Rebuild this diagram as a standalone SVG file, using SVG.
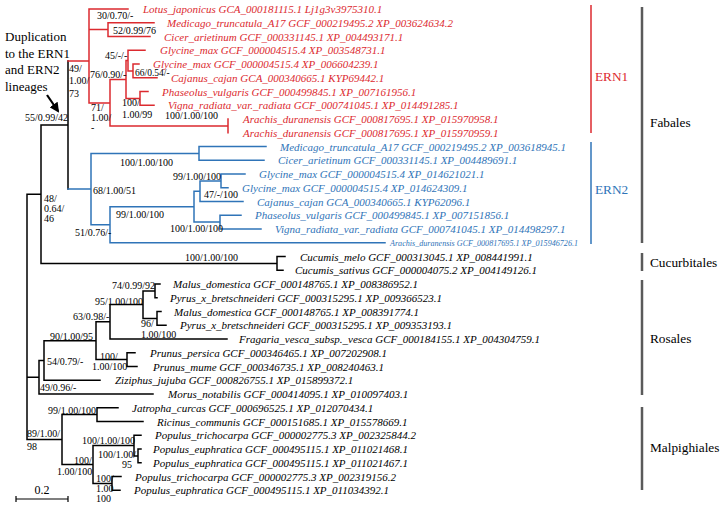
<svg xmlns="http://www.w3.org/2000/svg" width="724" height="508" viewBox="0 0 724 508" font-family="'Liberation Serif','Times New Roman',serif">
<style>
text{font-family:"Liberation Serif","Times New Roman",serif}
.sp{font-size:11px;font-style:italic}
.rt{fill:#dc2a2f}.bt{fill:#2f74b8}.kt{fill:#000}
.sl{font-size:10px;fill:#000}
.cl{font-size:13.3px}
.e{fill:none;stroke-width:1.5;stroke-linecap:square}
.ek{stroke:#000}.er{stroke:#dc2a2f}.eb{stroke:#2f74b8}
.br{stroke-width:2.5;stroke:#5a5a5a}
</style>
<defs>
<marker id="ah" viewBox="0 0 10 10" refX="8" refY="5" markerWidth="4.5" markerHeight="4.5" orient="auto"><path d="M0,0L10,5L0,10z" fill="#000"/></marker>
</defs>
<rect width="724" height="508" fill="#fff"/>
<g id="connectors">
<path class="e ek" d="M68,61V189M41,125H68M41,125V263.4M27,194.2H41M27,194.2V439.6M41,263.4H277M277,256.5V270.25M277,256.5H285M277,270.25H283
M27,377.2H39M39,360.5V394M39,394H153M39,360.5H44M44,340.7V380.25M44,380.25H100M44,340.7H96M96,321.8V359.6M96,359.6H127M127,352.75V366.5M127,352.75H135M127,366.5H137M96,321.8H110M110,304.6V339M110,339H227M110,304.6H143M143,290.9V318.4M143,290.9H155M155,284V297.75M155,284H160M155,297.75H157M143,318.4H157M157,311.5V325.25M157,311.5H161M157,325.25H166
M27,439.6H62M62,414.6V464.5M62,414.6H97M97,407.75V421.5M97,407.75H118M97,421.5H143M62,464.5H93M93,445.6V483.4M93,445.6H134M134,435.25V455.9M134,435.25H141M134,455.9H138M138,449V462.75M138,449H141M138,462.75H141M93,483.4H112M112,476.5V490.25M112,476.5H121M112,490.25H120"/>
<path class="e er" d="M68,61H89M89,9V103M89,9H128M89,29.6H108M108,22.75V36.5M108,22.75H154M108,36.5H150M89,103H110M110,79.5V125.9M110,79.5H126M126,60.6V98.4M126,60.6H128M128,50.25V70.9M128,50.25H145M128,70.9H133M133,64V77.75M133,64H139M133,77.75H157M126,98.4H140M140,91.5V105.25M140,91.5H148M140,105.25H154M110,125.9H228M228,119V132.75"/>
<path class="e eb" d="M68,189H91M91,153.4V224.7M91,153.4H199M199,146.5V160.25M199,146.5H266M199,160.25H264M91,224.7H110M110,206.7V242.75M110,242.75H385M110,206.7H194M194,191.2V222.1M194,191.2H200M200,180.9V201.5M200,201.5H243M200,180.9H221M221,174V187.75M221,174H245M221,187.75H228M194,222.1H220M220,215.25V229M220,215.25H241M220,229H261"/>
</g>
<g id="tips" class="sp">
<g id="t0" class="rt"><text x="143" y="13">Lotus_japonicus GCA_000181115.1 Lj1g3v3975310.1</text></g>
<g id="t1" class="rt"><text x="167" y="26.75">Medicago_truncatula_A17 GCF_000219495.2 XP_003624634.2</text></g>
<g id="t2" class="rt"><text x="164" y="40.5">Cicer_arietinum GCF_000331145.1 XP_004493171.1</text></g>
<g id="t3" class="rt"><text x="160" y="54.25">Glycine_max GCF_000004515.4 XP_003548731.1</text></g>
<g id="t4" class="rt"><text x="153" y="68">Glycine_max GCF_000004515.4 XP_006604239.1</text></g>
<g id="t5" class="rt"><text x="171" y="81.75">Cajanus_cajan GCA_000340665.1 KYP69442.1</text></g>
<g id="t6" class="rt"><text x="162" y="95.5">Phaseolus_vulgaris GCF_000499845.1 XP_007161956.1</text></g>
<g id="t7" class="rt"><text x="168" y="109.25">Vigna_radiata_var._radiata GCF_000741045.1 XP_014491285.1</text></g>
<g id="t8" class="rt"><text x="243" y="123">Arachis_duranensis GCF_000817695.1 XP_015970958.1</text></g>
<g id="t9" class="rt"><text x="243" y="136.75">Arachis_duranensis GCF_000817695.1 XP_015970959.1</text></g>
<g id="t10" class="bt"><text x="280" y="150.5">Medicago_truncatula_A17 GCF_000219495.2 XP_003618945.1</text></g>
<g id="t11" class="bt"><text x="278" y="164.25">Cicer_arietinum GCF_000331145.1 XP_004489691.1</text></g>
<g id="t12" class="bt"><text x="259" y="178">Glycine_max GCF_000004515.4 XP_014621021.1</text></g>
<g id="t13" class="bt"><text x="242" y="191.75">Glycine_max GCF_000004515.4 XP_014624309.1</text></g>
<g id="t14" class="bt"><text x="257" y="205.5">Cajanus_cajan GCA_000340665.1 KYP62096.1</text></g>
<g id="t15" class="bt"><text x="255" y="219.25">Phaseolus_vulgaris GCF_000499845.1 XP_007151856.1</text></g>
<g id="t16" class="bt"><text x="275" y="233">Vigna_radiata_var._radiata GCF_000741045.1 XP_014498297.1</text></g>
<g id="t17" class="bt"><text x="390" y="246" style="font-size:9px" textLength="188" lengthAdjust="spacingAndGlyphs">Arachis_duranensis GCF_000817695.1 XP_015946726.1</text></g>
<g id="t18" class="kt"><text x="300" y="260.5">Cucumis_melo GCF_000313045.1 XP_008441991.1</text></g>
<g id="t19" class="kt"><text x="295" y="274.25">Cucumis_sativus GCF_000004075.2 XP_004149126.1</text></g>
<g id="t20" class="kt"><text x="173" y="288">Malus_domestica GCF_000148765.1 XP_008386952.1</text></g>
<g id="t21" class="kt"><text x="170" y="301.75">Pyrus_x_bretschneideri GCF_000315295.1 XP_009366523.1</text></g>
<g id="t22" class="kt"><text x="174" y="315.5">Malus_domestica GCF_000148765.1 XP_008391774.1</text></g>
<g id="t23" class="kt"><text x="180" y="329.25">Pyrus_x_bretschneideri GCF_000315295.1 XP_009353193.1</text></g>
<g id="t24" class="kt"><text x="239" y="343">Fragaria_vesca_subsp._vesca GCF_000184155.1 XP_004304759.1</text></g>
<g id="t25" class="kt"><text x="150" y="356.75">Prunus_persica GCF_000346465.1 XP_007202908.1</text></g>
<g id="t26" class="kt"><text x="153" y="370.5">Prunus_mume GCF_000346735.1 XP_008240463.1</text></g>
<g id="t27" class="kt"><text x="115" y="384.25">Ziziphus_jujuba GCF_000826755.1 XP_015899372.1</text></g>
<g id="t28" class="kt"><text x="168" y="398">Morus_notabilis GCF_000414095.1 XP_010097403.1</text></g>
<g id="t29" class="kt"><text x="132" y="411.75">Jatropha_curcas GCF_000696525.1 XP_012070434.1</text></g>
<g id="t30" class="kt"><text x="157" y="425.5">Ricinus_communis GCF_000151685.1 XP_015578669.1</text></g>
<g id="t31" class="kt"><text x="155" y="439.25">Populus_trichocarpa GCF_000002775.3 XP_002325844.2</text></g>
<g id="t32" class="kt"><text x="153" y="453">Populus_euphratica GCF_000495115.1 XP_011021468.1</text></g>
<g id="t33" class="kt"><text x="153" y="466.75">Populus_euphratica GCF_000495115.1 XP_011021467.1</text></g>
<g id="t34" class="kt"><text x="135" y="480.5">Populus_trichocarpa GCF_000002775.3 XP_002319156.2</text></g>
<g id="t35" class="kt"><text x="134" y="494.25">Populus_euphratica GCF_000495115.1 XP_011034392.1</text></g>
</g>
<g id="supports" class="sl">
<text x="25" y="121">55/0.99/42</text>
<text x="69" y="72">49/</text><text x="69" y="84">1.00/</text><text x="69" y="97">73</text>
<text x="97" y="19">30/0.70/-</text>
<text x="113" y="34">52/0.99/76</text>
<text x="105" y="59">45/-/-</text>
<text x="90" y="78">76/0.90/-</text>
<text x="135" y="76" style="font-size:9.5px">66/0.54/-</text>
<text x="122" y="106">100/</text><text x="122" y="118">1.00/99</text>
<text x="91" y="111">71/</text><text x="91" y="121">1.00/</text><text x="91" y="131">-</text>
<text x="165" y="119">100/1.00/100</text>
<text x="120" y="166">100/1.00/100</text>
<text x="93" y="194">68/1.00/51</text>
<text x="173" y="180">99/1.00/100</text>
<text x="204" y="198">47/-/100</text>
<text x="116" y="218">99/1.00/100</text>
<text x="170" y="232">100/1.00/100</text>
<text x="75" y="236">51/0.76/-</text>
<text x="44" y="202">48/</text><text x="44" y="212">0.64/</text><text x="44" y="222">46</text>
<text x="185" y="261">100/1.00/100</text>
<text x="112" y="289">74/0.99/92</text>
<text x="95" y="305">95/1.00/100</text>
<text x="73" y="320">63/0.98/-</text>
<text x="141" y="327">96/</text><text x="141" y="338">1.00/100</text>
<text x="50" y="340">90/1.00/95</text>
<text x="100" y="360">100/</text><text x="92" y="370">1.00/100</text>
<text x="47" y="365">54/0.79/-</text>
<text x="40" y="391">49/0.96/-</text>
<text x="48" y="414">99/1.00/100</text>
<text x="27" y="437">89/1.00/</text><text x="27" y="450">98</text>
<text x="82" y="444">100/1.00/100</text>
<text x="98" y="458">100/1.00/</text><text x="122" y="468">95</text>
<text x="74" y="464">100/</text><text x="57" y="475">1.00/100</text>
<text x="96" y="482">100/</text><text x="96" y="492">1.00</text><text x="96" y="502">100</text>
</g>
<g id="clades" class="cl">
<g id="c-ern1"><path d="M591,5V133" stroke="#dc2a2f" stroke-width="1.5"/><text x="595" y="81" fill="#dc2a2f">ERN1</text></g>
<g id="c-ern2"><path d="M591,142V244" stroke="#2f74b8" stroke-width="1.5"/><text x="595" y="194" fill="#2f74b8">ERN2</text></g>
<g id="c-fab"><path class="br" d="M642,7V243"/><text x="650" y="127">Fabales</text></g>
<g id="c-cuc"><path class="br" d="M642,253V271"/><text x="650" y="267">Cucurbitales</text></g>
<g id="c-ros"><path class="br" d="M642,280V395"/><text x="650" y="343">Rosales</text></g>
<g id="c-mal"><path class="br" d="M642,407V490"/><text x="650" y="452">Malpighiales</text></g>
</g>
<g id="annotation">
<text x="5" y="41" style="font-size:13px">Duplication</text>
<text x="5" y="57.5" style="font-size:13px">to the ERN1</text>
<text x="5" y="74" style="font-size:13px">and ERN2</text>
<text x="5" y="90.5" style="font-size:13px">lineages</text>
<path d="M47,95L58,111" stroke="#000" stroke-width="2.2" marker-end="url(#ah)"/>
</g>
<g id="scale">
<path d="M16,499H68M16,496V502M68,496V502" stroke="#000" stroke-width="1.2" fill="none"/>
<text x="42" y="494" text-anchor="middle" style="font-size:12px">0.2</text>
</g>
</svg>
